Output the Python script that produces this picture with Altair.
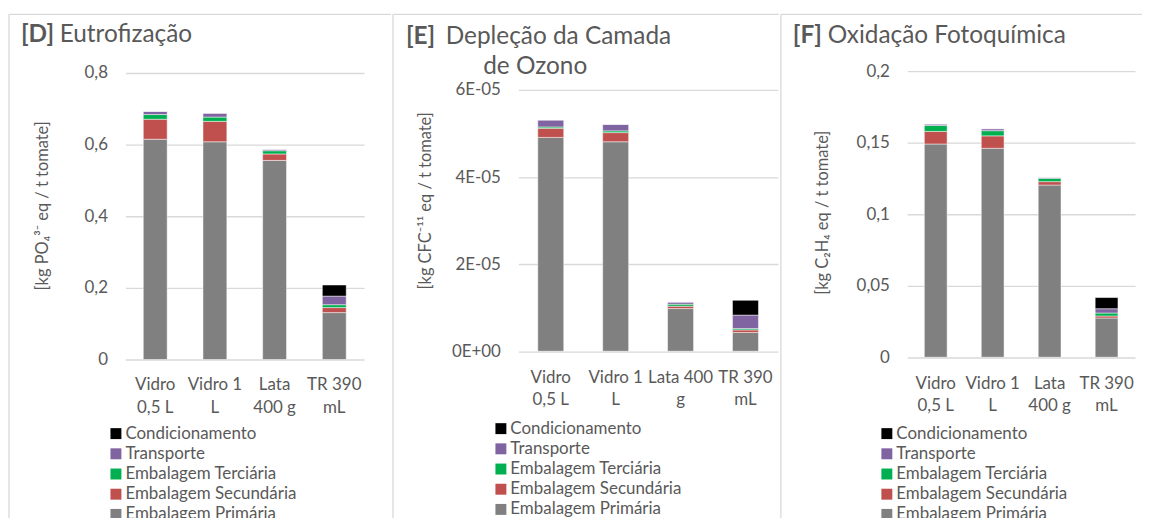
import altair as alt
import pandas as pd

categories = ["Vidro 0,5 L", "Vidro 1 L", "Lata 400 g", "TR 390 mL"]
stages = ["Condicionamento", "Transporte", "Embalagem Terciária",
          "Embalagem Secundária", "Embalagem Primária"]
colors = ["#000000", "#8064A2", "#00B050", "#C0504D", "#808080"]

# [D] Eutrofização  (kg PO4 eq / t tomate)
D_prim = [0.615, 0.608, 0.556, 0.131]
D_sec = [0.056, 0.057, 0.018, 0.014]
D_ter = [0.013, 0.012, 0.009, 0.008]
D_tra = [0.009, 0.011, 0.004, 0.024]
D_con = [0.0, 0.0, 0.0, 0.031]

# [E] Depleção da Camada de Ozono  (kg CFC-11 eq / t tomate)
E_prim = [4.91e-5, 4.81e-5, 0.98e-5, 0.43e-5]
E_sec = [0.21e-5, 0.21e-5, 0.055e-5, 0.06e-5]
E_ter = [0.03e-5, 0.04e-5, 0.045e-5, 0.03e-5]
E_tra = [0.16e-5, 0.15e-5, 0.05e-5, 0.31e-5]
E_con = [0.0, 0.0, 0.0, 0.34e-5]

# [F] Oxidação Fotoquímica  (kg C2H4 eq / t tomate)
F_prim = [0.149, 0.146, 0.1203, 0.0274]
F_sec = [0.0088, 0.0087, 0.0024, 0.0014]
F_ter = [0.0042, 0.0036, 0.0023, 0.0021]
F_tra = [0.0010, 0.0014, 0.0007, 0.0030]
F_con = [0.0, 0.0, 0.0, 0.0078]

xlabels_D = [["Vidro", "0,5 L"], ["Vidro 1", "L"], ["Lata", "400 g"], ["TR 390", "mL"]]
xlabels_E = [["Vidro", "0,5 L"], ["Vidro 1", "L"], ["Lata 400", "g"], ["TR 390", "mL"]]
xlabels_F = [["Vidro", "0,5 L"], ["Vidro 1", "L"], ["Lata", "400 g"], ["TR 390", "mL"]]

yticks_D = [0, 0.2, 0.4, 0.6, 0.8]
yticks_E = [0, 2e-5, 4e-5, 6e-5]
yticks_F = [0, 0.05, 0.1, 0.15, 0.2]

FONT = "Lato"
TXT = "#595959"
GRID = "#D9D9D9"
H = 290  # common plot-area height


def make_df(prim, sec, ter, tra, con):
    series = {"Embalagem Primária": prim, "Embalagem Secundária": sec,
              "Embalagem Terciária": ter, "Transporte": tra, "Condicionamento": con}
    order = {"Embalagem Primária": 0, "Embalagem Secundária": 1,
             "Embalagem Terciária": 2, "Transporte": 3, "Condicionamento": 4}
    rows = []
    for st, vals in series.items():
        for c, v in zip(categories, vals):
            rows.append({"cat": c, "stage": st, "value": v, "ord": order[st]})
    return pd.DataFrame(rows)


def xlabel_expr(lines):
    expr = "datum.value"
    for c, l in reversed(list(zip(categories, lines))):
        expr = f"datum.value == '{c}' ? ['{l[0]}', '{l[1]}'] : ({expr})"
    return expr


def text_layer(txt, x, y, bold=False, align="left", size=24.5):
    return alt.Chart(pd.DataFrame({"t": [txt]})).mark_text(
        align=align, baseline="alphabetic", font=FONT, fontSize=size,
        fontWeight="bold" if bold else "normal", color=TXT
    ).encode(x=alt.value(x), y=alt.value(y), text="t:N")


def frame_layers(xl, xr, yt, yb):
    d = pd.DataFrame({"a": [0]})
    top = alt.Chart(d).mark_rule(color=GRID, strokeWidth=1.3).encode(
        x=alt.value(xl), x2=alt.value(xr), y=alt.value(yt))
    left = alt.Chart(d).mark_rule(color=GRID, strokeWidth=1.3).encode(
        x=alt.value(xl), y=alt.value(yt), y2=alt.value(yb))
    return [top, left]


def panel(df, W, yrange, ymax, yticks, ylab_expr, ytitle, tX, tY, xl_lines,
          xlpad, legX, legY, frame, titles):
    bars = alt.Chart(df).mark_bar(stroke="#FFFFFF", strokeWidth=0.8, strokeOpacity=0.6).encode(
        x=alt.X("cat:N", sort=categories,
                scale=alt.Scale(paddingInner=0.6, paddingOuter=0.3),
                axis=alt.Axis(title=None, labelAngle=0, labelExpr=xlabel_expr(xl_lines),
                              labelFont=FONT, labelFontSize=17, labelColor=TXT,
                              labelLineHeight=23, labelPadding=xlpad, ticks=False,
                              domain=False, grid=False)),
        y=alt.Y("value:Q", stack="zero",
                scale=alt.Scale(domain=[0, ymax], nice=False, zero=True, range=yrange),
                axis=alt.Axis(values=yticks, labelExpr=ylab_expr, title=ytitle,
                              labelFont=FONT, labelFontSize=17, labelColor=TXT,
                              labelPadding=18, ticks=False, domain=False,
                              grid=True, gridColor=GRID, gridWidth=1.3,
                              titleFont=FONT, titleFontSize=16.5, titleColor=TXT,
                              titleFontWeight="normal", titleX=tX, titleY=tY,
                              titleAngle=270, titleAlign="center",
                              titleBaseline="middle")),
        color=alt.Color("stage:N", scale=alt.Scale(domain=stages, range=colors),
                        legend=alt.Legend(orient="none", legendX=legX, legendY=legY,
                                          title=None, symbolType="square",
                                          symbolSize=121, symbolStrokeWidth=0,
                                          labelFont=FONT, labelFontSize=17,
                                          labelColor=TXT, labelOffset=1,
                                          labelLimit=400,
                                          rowPadding=2.3, padding=0)),
        order=alt.Order("ord:Q", sort="ascending"),
    )
    layers = frame_layers(*frame) + [bars] + titles
    return alt.layer(*layers).properties(width=W, height=H)


pD = panel(make_df(D_prim, D_sec, D_ter, D_tra, D_con), 240, [290, 2], 0.8, yticks_D,
           "replace(format(datum.value, '.1~f'), '.', ',')",
           "[kg PO₄³⁻ eq / t tomate]", -83, 135, xlabels_D, 17,
           -18, 356, (-117, 267, -57, 451),
           [text_layer("[D]", -105, -29, bold=True),
            text_layer("Eutrofização", -66, -29)])

pE = panel(make_df(E_prim, E_sec, E_ter, E_tra, E_con), 261, [281.7, 19], 6e-5, yticks_E,
           "datum.value == 0 ? '0E+00' : format(datum.value * 100000, 'd') + 'E-05'",
           "[kg CFC⁻¹¹ eq / t tomate]", -93, 130, xlabels_E, 9.7,
           -26, 351, (-126, 262, -57, 451),
           [text_layer("[E]", -113, -27.3, bold=True),
            text_layer("Depleção da Camada", -73, -27.3),
            text_layer("de Ozono", 17, 2.7, align="center")])

pF = panel(make_df(F_prim, F_sec, F_ter, F_tra, F_con), 229, [287.7, 0], 0.2, yticks_F,
           "replace(format(datum.value, '.2~f'), '.', ',')",
           "[kg C₂H₄ eq / t tomate]", -85, 142, xlabels_F, 15.7,
           -29, 356, (-127, 236, -57, 451),
           [text_layer("[F]", -115, -28.3, bold=True),
            text_layer("Oxidação Fotoquímica", -80, -28.3)])

chart = alt.hconcat(pD, pE, pF, spacing=0).resolve_scale(
    color="independent", x="independent", y="independent"
).properties(
    padding={"left": 0, "top": 4, "right": 0, "bottom": 0}, background="white"
).configure_view(stroke=None)

chart.save("out.html", embed_options={"renderer": "svg", "actions": False})
